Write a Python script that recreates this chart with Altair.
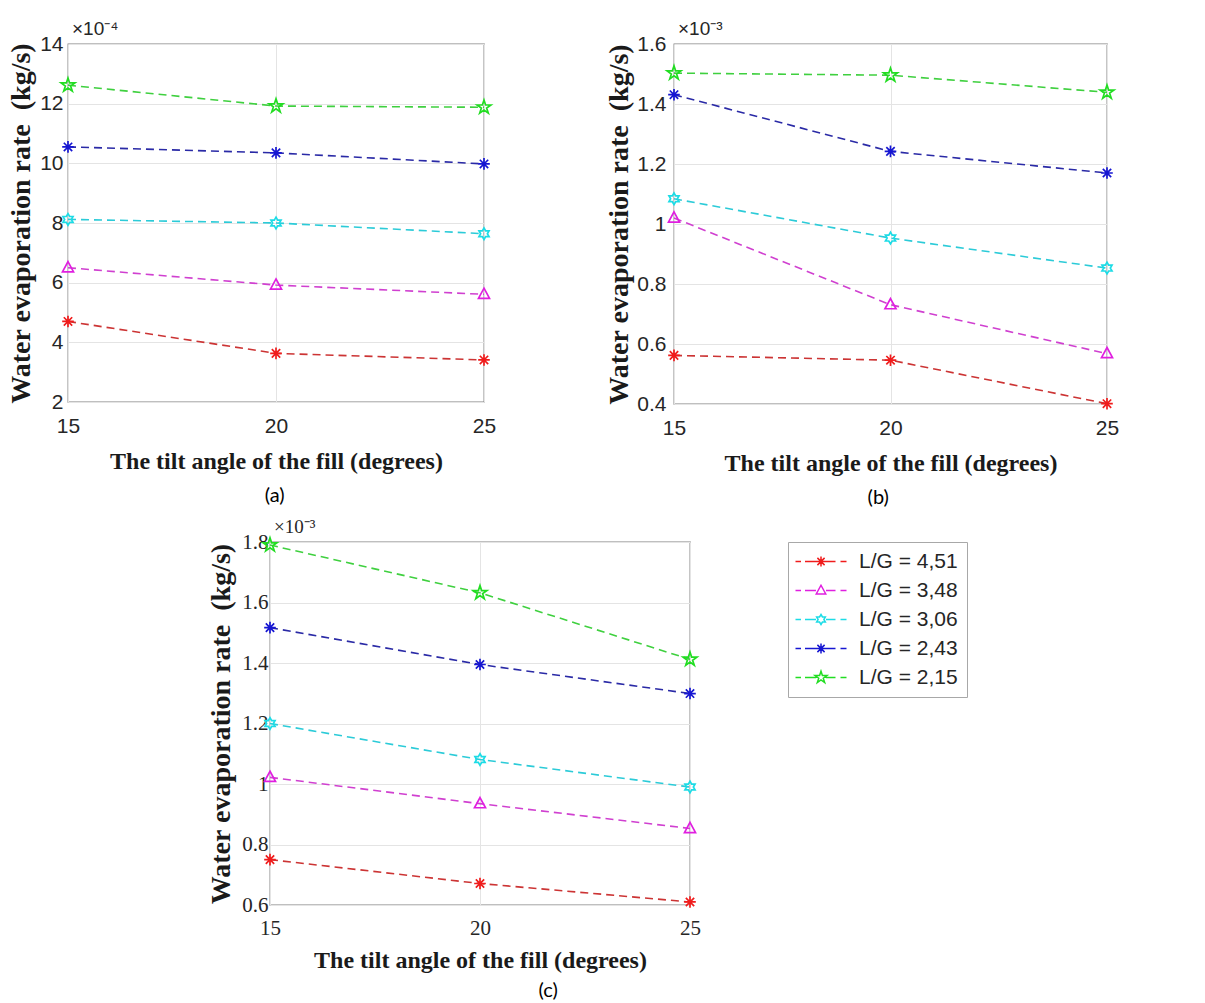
import altair as alt
import pandas as pd

# ---------------------------------------------------------------- data
ANGLES = [15, 20, 25]
SERIES = ["L/G = 4,51", "L/G = 3,48", "L/G = 3,06", "L/G = 2,43", "L/G = 2,15"]

# (a) water evaporation rate, x1e-4 kg/s
RATE_A_451 = [4.70, 3.63, 3.41]
RATE_A_348 = [6.50, 5.92, 5.61]
RATE_A_306 = [8.12, 8.00, 7.64]
RATE_A_243 = [10.55, 10.35, 9.98]
RATE_A_215 = [12.62, 11.92, 11.88]

# (b) water evaporation rate, x1e-3 kg/s
RATE_B_451 = [0.562, 0.546, 0.401]
RATE_B_348 = [1.020, 0.731, 0.568]
RATE_B_306 = [1.084, 0.953, 0.853]
RATE_B_243 = [1.431, 1.242, 1.170]
RATE_B_215 = [1.503, 1.496, 1.439]

# (c) water evaporation rate, x1e-3 kg/s
RATE_C_451 = [0.750, 0.671, 0.610]
RATE_C_348 = [1.022, 0.935, 0.853]
RATE_C_306 = [1.200, 1.081, 0.990]
RATE_C_243 = [1.517, 1.395, 1.299]
RATE_C_215 = [1.790, 1.632, 1.412]

Y_TICKS_A = [2, 4, 6, 8, 10, 12, 14]
Y_TICKS_B = [0.4, 0.6, 0.8, 1.0, 1.2, 1.4, 1.6]
Y_TICKS_C = [0.6, 0.8, 1.0, 1.2, 1.4, 1.6, 1.8]

X_TITLE = "The tilt angle of the fill (degrees)"
Y_TITLE = "Water evaporation rate\u00a0 (kg/s)"

# ---------------------------------------------------------------- styles
MARKER_COLORS = ["#f01c1c", "#e01fe0", "#1cdce6", "#1616d2", "#22dd22"]
LINE_COLORS = ["#cc3434", "#d040d0", "#2ccbd8", "#2a2aa6", "#3fd03f"]

ASTERISK = [([(0, -1), (0, 1)], False), ([(-1, 0), (1, 0)], False),
            ([(-0.72, -0.72), (0.72, 0.72)], False),
            ([(-0.72, 0.72), (0.72, -0.72)], False)]
TRIANGLE = [([(0, -1.05), (0.95, 0.7), (-0.95, 0.7)], True)]
HEXAGRAM = [([(0, -1), (0.289, -0.5), (0.866, -0.5), (0.577, 0), (0.866, 0.5),
              (0.289, 0.5), (0, 1), (-0.289, 0.5), (-0.866, 0.5), (-0.577, 0),
              (-0.866, -0.5), (-0.289, -0.5)], True)]
PENTAGRAM = [([(0, -1), (0.225, -0.309), (0.951, -0.309), (0.363, 0.118),
               (0.588, 0.809), (0, 0.382), (-0.588, 0.809), (-0.363, 0.118),
               (-0.951, -0.309), (-0.225, -0.309)], True)]
MARKER_SHAPES = [ASTERISK, TRIANGLE, HEXAGRAM, ASTERISK, PENTAGRAM]
MARKER_SCALE = [1.0, 1.0, 1.0, 1.0, 1.25]

# dashed line segments drawn through each legend key
KEY_DASHES = [([(-2.4, 0), (-1.3, 0)], False), ([(-0.5, 0), (1.7, 0)], False),
              ([(3.7, 0), (5.6, 0)], False), ([(6.6, 0), (7.8, 0)], False)]
KEY_CENTER = 2.7


def svg_path(shapes, dx=0.0, k=1.0):
    out = []
    for pts, closed in shapes:
        seg = "M" + "L".join(f"{x * k + dx:.3f},{y * k:.3f}" for x, y in pts)
        out.append(seg + ("Z" if closed else ""))
    return "".join(out)


MARKER_PATHS = [svg_path(s, k=k) for s, k in zip(MARKER_SHAPES, MARKER_SCALE)]
KEY_PATHS = [svg_path(KEY_DASHES) + svg_path(s, dx=KEY_CENTER, k=k)
             for s, k in zip(MARKER_SHAPES, MARKER_SCALE)]

SANS = "Liberation Sans"
SERIF = "Liberation Serif"
INK = "#262626"
INDEPENDENT = dict(color="independent", shape="independent",
                   stroke="independent")


def frame(series_values):
    recs = []
    for name, vals in zip(SERIES, series_values):
        for a, v in zip(ANGLES, vals):
            recs.append({"angle": a, "rate": v, "series": name})
    return pd.DataFrame(recs)


def panel(df, y_domain, y_ticks, exponent, width, height, tick_font,
          y_lab_pad, y_title_pad, x_lab_pad, x_title_pad):
    x = alt.X("angle:Q",
              scale=alt.Scale(domain=[15, 25], nice=False, zero=False),
              axis=alt.Axis(values=ANGLES, title=X_TITLE, labelFont=tick_font,
                            labelFontSize=21, labelPadding=x_lab_pad,
                            titlePadding=x_title_pad, titleFont=SERIF,
                            titleFontSize=24, titleFontWeight="bold",
                            labelFlush=False))
    y = alt.Y("rate:Q",
              scale=alt.Scale(domain=y_domain, nice=False, zero=False),
              axis=alt.Axis(values=y_ticks, format="~g", title=Y_TITLE,
                            labelFont=tick_font, labelFontSize=21,
                            labelPadding=y_lab_pad, titlePadding=y_title_pad,
                            titleFont=SERIF, titleFontSize=28,
                            titleFontWeight="bold"))
    base = alt.Chart(df)
    lines = base.mark_line(strokeDash=[8, 5], strokeWidth=1.6).encode(
        x=x, y=y,
        color=alt.Color("series:N",
                        scale=alt.Scale(domain=SERIES, range=LINE_COLORS),
                        legend=None))
    points = base.mark_point(filled=False, strokeWidth=1.7, size=135,
                             opacity=1).encode(
        x=x, y=y,
        stroke=alt.Stroke("series:N",
                          scale=alt.Scale(domain=SERIES, range=MARKER_COLORS),
                          legend=None),
        shape=alt.Shape("series:N",
                        scale=alt.Scale(domain=SERIES, range=MARKER_PATHS),
                        legend=None))
    return alt.layer(lines, points).properties(
        width=width, height=height,
        title=alt.TitleParams(text=exponent, anchor="start", frame="group",
                              orient="top", font=tick_font, fontSize=19,
                              fontWeight="normal", color=INK, dx=4,
                              offset=-21, baseline="alphabetic"))


def captioned(chart, caption, dx, offset):
    return alt.vconcat(chart, title=alt.TitleParams(
        text=caption, orient="bottom", anchor="middle", font="Lato",
        fontSize=20, fontWeight="normal", color="black", dx=dx,
        offset=offset)).resolve_scale(**INDEPENDENT)


panel_a = panel(frame([RATE_A_451, RATE_A_348, RATE_A_306, RATE_A_243, RATE_A_215]),
                [2, 14], Y_TICKS_A, "×10⁻⁴", 416, 358, SANS, 5, 4, 13, 13)
panel_b = panel(frame([RATE_B_451, RATE_B_348, RATE_B_306, RATE_B_243, RATE_B_215]),
                [0.4, 1.6], Y_TICKS_B, "×10⁻³", 433, 360, SANS, 8, 3, 13, 13)
panel_c = panel(frame([RATE_C_451, RATE_C_348, RATE_C_306, RATE_C_243, RATE_C_215]),
                [0.6, 1.8], Y_TICKS_C, "×10⁻³", 420, 363, SERIF, 2, 6, 12, 10)

# legend: series keys with the dashed line drawn through each marker
key_legend = alt.Legend(orient="none", legendX=85, legendY=0, padding=9,
                        rowPadding=7, labelOffset=41, symbolSize=100,
                        symbolStrokeWidth=1.5, symbolOpacity=1,
                        labelFont=SANS, labelFontSize=21, labelColor=INK,
                        strokeColor="#a8a8a8", fillColor="white")
key_chart = alt.Chart(pd.DataFrame({"series": SERIES})).mark_point(
    filled=False, strokeWidth=1.5, opacity=0, size=1).encode(
    color=alt.Color("series:N", title=None,
                    scale=alt.Scale(domain=SERIES, range=MARKER_COLORS),
                    legend=key_legend),
    shape=alt.Shape("series:N", title=None,
                    scale=alt.Scale(domain=SERIES, range=KEY_PATHS),
                    legend=key_legend)
).properties(width=1, height=1, view=alt.ViewBackground(strokeOpacity=0))

spacer = alt.Chart(pd.DataFrame({"v": [0]})).mark_point(opacity=0, size=1).encode(
    x=alt.value(0), y=alt.value(0)).properties(
    width=139, height=1, view=alt.ViewBackground(strokeOpacity=0))

top_row = alt.hconcat(captioned(panel_a, "(a)", 23, 12),
                      captioned(panel_b, "(b)", 16, 12),
                      spacing=108).resolve_scale(**INDEPENDENT)
bottom_row = alt.hconcat(spacer, captioned(panel_c, "(c)", 94, 8), key_chart,
                         spacing=0).resolve_scale(**INDEPENDENT)

chart = alt.vconcat(top_row, bottom_row, spacing=9).resolve_scale(
    **INDEPENDENT
).properties(
    padding={"left": 6, "top": 19, "right": 5, "bottom": 0},
    background="white",
).configure_view(
    stroke="#808080", strokeWidth=1.3
).configure_axis(
    domain=False, ticks=False, tickSize=0, grid=True, gridColor="#e4e4e4",
    gridWidth=1, labelColor=INK, titleColor="#1a1a1a"
)

chart.save("out.html", embed_options={"renderer": "svg", "actions": False})
